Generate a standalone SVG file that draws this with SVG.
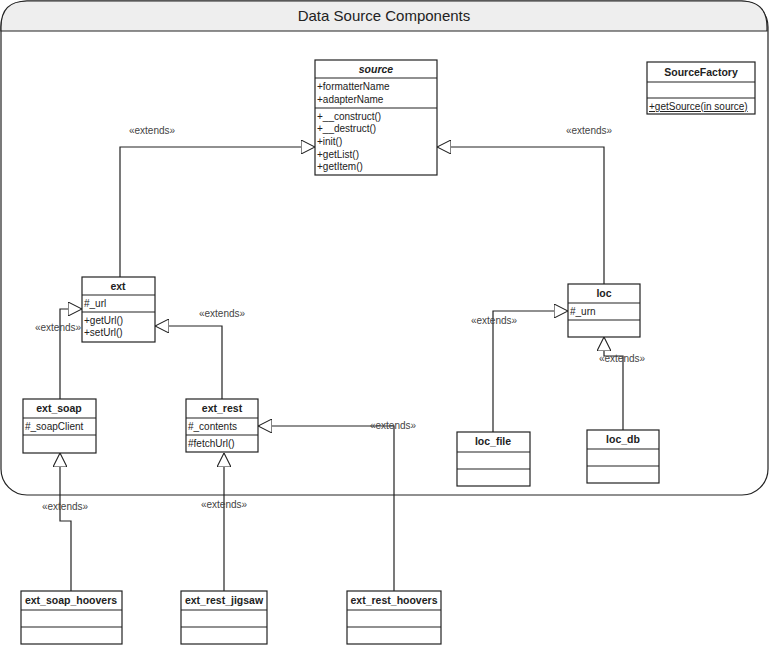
<svg xmlns="http://www.w3.org/2000/svg" width="770" height="645" viewBox="0 0 770 645">
<style>
text{font-family:"Liberation Sans",Arial,sans-serif;font-size:10px;fill:#222}
.t{font-weight:bold;text-anchor:middle;font-size:10.5px}
.c{fill:#fff;stroke:#222;stroke-width:1.2}
.l{stroke:#222;stroke-width:1.2}
.e{fill:none;stroke:#222;stroke-width:1.2;marker-end:url(#tri)}
.x{text-anchor:middle;font-size:10px;fill:#444}
</style>
<defs>
<marker id="tri" viewBox="0 0 14 14" refX="14" refY="7" markerWidth="14" markerHeight="14" markerUnits="userSpaceOnUse" orient="auto">
<path d="M0,0 L14,7 L0,14 Z" fill="#fff" stroke="#222" stroke-width="1.1"/>
</marker>
</defs>
<rect width="770" height="645" fill="#fff"/>
<g id="container">
<rect x="1" y="1" width="767" height="494" rx="26" fill="#fff" stroke="#222" stroke-width="1.2"/>
<path d="M1,27 Q1,1 27,1 L741,1 Q767,1 767,27 L767,31 L1,31 Z" fill="#eee" stroke="#222" stroke-width="1.2"/>
<text x="384" y="21" text-anchor="middle" style="font-size:15px">Data Source Components</text>
</g>
<g id="connectors">
<path class="e" d="M120,277 V147 H315"/>
<path class="e" d="M604,284 V147 H437"/>
<path class="e" d="M60,399 V309 H82"/>
<path class="e" d="M222,399 V326 H155"/>
<path class="e" d="M394,591 V426 H258"/>
<path class="e" d="M71,591 V521 H60 V453"/>
<path class="e" d="M224,591 V453"/>
<path class="e" d="M493,432 V311 H568"/>
<path class="e" d="M623,430 V356 H604 V337"/>
<text class="x" x="152" y="134">«extends»</text>
<text class="x" x="589" y="134">«extends»</text>
<text class="x" x="58" y="331">«extends»</text>
<text class="x" x="222" y="317">«extends»</text>
<text class="x" x="393" y="429">«extends»</text>
<text class="x" x="65" y="510">«extends»</text>
<text class="x" x="224" y="508">«extends»</text>
<text class="x" x="494" y="324">«extends»</text>
<text class="x" x="622" y="362">«extends»</text>
</g>
<g id="source">
<rect class="c" x="315" y="60" width="122" height="115"/>
<line class="l" x1="315" y1="78" x2="437" y2="78"/><line class="l" x1="315" y1="108" x2="437" y2="108"/>
<text class="t" x="376" y="73" font-style="italic">source</text>
<text x="317" y="90">+formatterName</text><text x="317" y="103">+adapterName</text>
<text x="317" y="120">+__construct()</text><text x="317" y="132">+__destruct()</text><text x="317" y="145">+init()</text><text x="317" y="158">+getList()</text><text x="317" y="170">+getItem()</text>
</g>
<g id="SourceFactory">
<rect class="c" x="647" y="62" width="108" height="52"/>
<line class="l" x1="647" y1="82" x2="755" y2="82"/><line class="l" x1="647" y1="98" x2="755" y2="98"/>
<text class="t" x="701" y="76">SourceFactory</text>
<text x="649" y="110" text-decoration="underline">+getSource(in source)</text>
</g>
<g id="ext">
<rect class="c" x="82" y="277" width="73" height="65"/>
<line class="l" x1="82" y1="295" x2="155" y2="295"/><line class="l" x1="82" y1="312" x2="155" y2="312"/>
<text class="t" x="118" y="290">ext</text>
<text x="84" y="307">#_url</text><text x="84" y="324">+getUrl()</text><text x="84" y="336">+setUrl()</text>
</g>
<g id="ext_soap">
<rect class="c" x="23" y="399" width="73" height="54"/>
<line class="l" x1="23" y1="418" x2="96" y2="418"/><line class="l" x1="23" y1="435" x2="96" y2="435"/>
<text class="t" x="59" y="412">ext_soap</text><text x="25" y="430">#_soapClient</text>
</g>
<g id="ext_rest">
<rect class="c" x="186" y="399" width="72" height="53"/>
<line class="l" x1="186" y1="418" x2="258" y2="418"/><line class="l" x1="186" y1="435" x2="258" y2="435"/>
<text class="t" x="222" y="412">ext_rest</text><text x="188" y="430">#_contents</text><text x="188" y="447">#fetchUrl()</text>
</g>
<g id="loc">
<rect class="c" x="568" y="284" width="72" height="53"/>
<line class="l" x1="568" y1="303" x2="640" y2="303"/><line class="l" x1="568" y1="320" x2="640" y2="320"/>
<text class="t" x="604" y="297">loc</text><text x="570" y="315">#_urn</text>
</g>
<g id="loc_file">
<rect class="c" x="457" y="432" width="73" height="54"/>
<line class="l" x1="457" y1="452" x2="530" y2="452"/><line class="l" x1="457" y1="469" x2="530" y2="469"/>
<text class="t" x="493" y="445">loc_file</text>
</g>
<g id="loc_db">
<rect class="c" x="587" y="430" width="72" height="53"/>
<line class="l" x1="587" y1="449" x2="659" y2="449"/><line class="l" x1="587" y1="466" x2="659" y2="466"/>
<text class="t" x="623" y="443">loc_db</text>
</g>
<g id="ext_soap_hoovers">
<rect class="c" x="21" y="591" width="101" height="53"/>
<line class="l" x1="21" y1="610" x2="122" y2="610"/><line class="l" x1="21" y1="627" x2="122" y2="627"/>
<text class="t" x="71" y="604">ext_soap_hoovers</text>
</g>
<g id="ext_rest_jigsaw">
<rect class="c" x="181" y="591" width="86" height="53"/>
<line class="l" x1="181" y1="610" x2="267" y2="610"/><line class="l" x1="181" y1="627" x2="267" y2="627"/>
<text class="t" x="224" y="604">ext_rest_jigsaw</text>
</g>
<g id="ext_rest_hoovers">
<rect class="c" x="347" y="591" width="94" height="53"/>
<line class="l" x1="347" y1="610" x2="441" y2="610"/><line class="l" x1="347" y1="627" x2="441" y2="627"/>
<text class="t" x="394" y="604">ext_rest_hoovers</text>
</g>
</svg>
